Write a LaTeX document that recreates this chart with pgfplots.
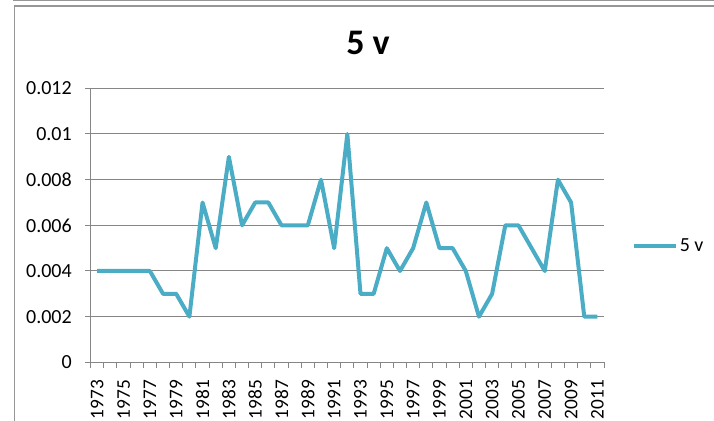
\documentclass[border=0pt]{standalone}
\usepackage{pgfplots}
\pgfplotsset{compat=1.18}
\usepackage{fontspec}
\setmainfont{Carlito}
\definecolor{series}{RGB}{75,172,198}
\definecolor{gridgray}{RGB}{134,134,134}
\definecolor{framegray}{RGB}{150,150,150}

\begin{document}
\begin{tikzpicture}[x=1pt,y=1pt]
\path[use as bounding box] (0,0) rectangle (535.5,315.75);
% chart area frame
\draw[framegray, line width=1pt] (9.5,315.25) -- (535.5,315.25);
\draw[framegray, line width=1pt] (11,0) -- (11,311.25) -- (535.5,311.25);
\node[font=\bfseries\fontsize{27}{30}\selectfont] at (276,283.3) {5 v};
\begin{axis}[
  at={(68pt,44pt)}, anchor=south west, scale only axis,
  width=385pt, height=205.5pt,
  xmin=1972.5, xmax=2011.5, ymin=0, ymax=0.012,
  axis lines*=left,
  axis line style={-, gridgray, line width=0.75pt},
  ymajorgrids, major grid style={gridgray, line width=0.75pt},
  tick align=outside,
  tick style={gridgray, line width=0.75pt},
  major tick length=4pt, minor tick length=4pt,
  every major x tick/.style={draw=none},
  ytick={0,0.002,0.004,0.006,0.008,0.01,0.012},
  yticklabels={0,0.002,0.004,0.006,0.008,0.01,0.012},
  scaled y ticks=false,
  xtick={1973,1975,1977,1979,1981,1983,1985,1987,1989,1991,1993,1995,1997,1999,2001,2003,2005,2007,2009,2011},
  xticklabels={1973,1975,1977,1979,1981,1983,1985,1987,1989,1991,1993,1995,1997,1999,2001,2003,2005,2007,2009,2011},
  minor xtick={1972.5,1973.5,...,2011.5},
  ticklabel style={font=\fontsize{15}{17}\selectfont, text=black},
  xticklabel style={rotate=90, anchor=east, inner sep=0pt, font=\fontsize{14.5}{16}\selectfont},
  yticklabel style={inner sep=0pt},
  xticklabel shift=9pt,
  yticklabel shift=10pt,
  /pgf/number format/assume math mode=true,
  legend image code/.code={\draw[#1] (0pt,0pt) -- (31.5pt,0pt);},
  legend style={at={(1.055,0.4245)}, anchor=west, draw=none, fill=none,
    inner sep=0pt, font=\fontsize{15}{17}\selectfont,
    nodes={inner sep=1pt}},
]
\addplot[series, line width=3pt, line join=round] coordinates {
  (1973,0.004) (1974,0.004) (1975,0.004) (1976,0.004) (1977,0.004)
  (1978,0.003) (1979,0.003) (1980,0.002) (1981,0.007) (1982,0.005)
  (1983,0.009) (1984,0.006) (1985,0.007) (1986,0.007) (1987,0.006)
  (1988,0.006) (1989,0.006) (1990,0.008) (1991,0.005) (1992,0.010)
  (1993,0.003) (1994,0.003) (1995,0.005) (1996,0.004) (1997,0.005)
  (1998,0.007) (1999,0.005) (2000,0.005) (2001,0.004) (2002,0.002)
  (2003,0.003) (2004,0.006) (2005,0.006) (2006,0.005) (2007,0.004)
  (2008,0.008) (2009,0.007) (2010,0.002) (2011,0.002)
};
\addlegendentry{5 v}
\end{axis}
\end{tikzpicture}
\end{document}
